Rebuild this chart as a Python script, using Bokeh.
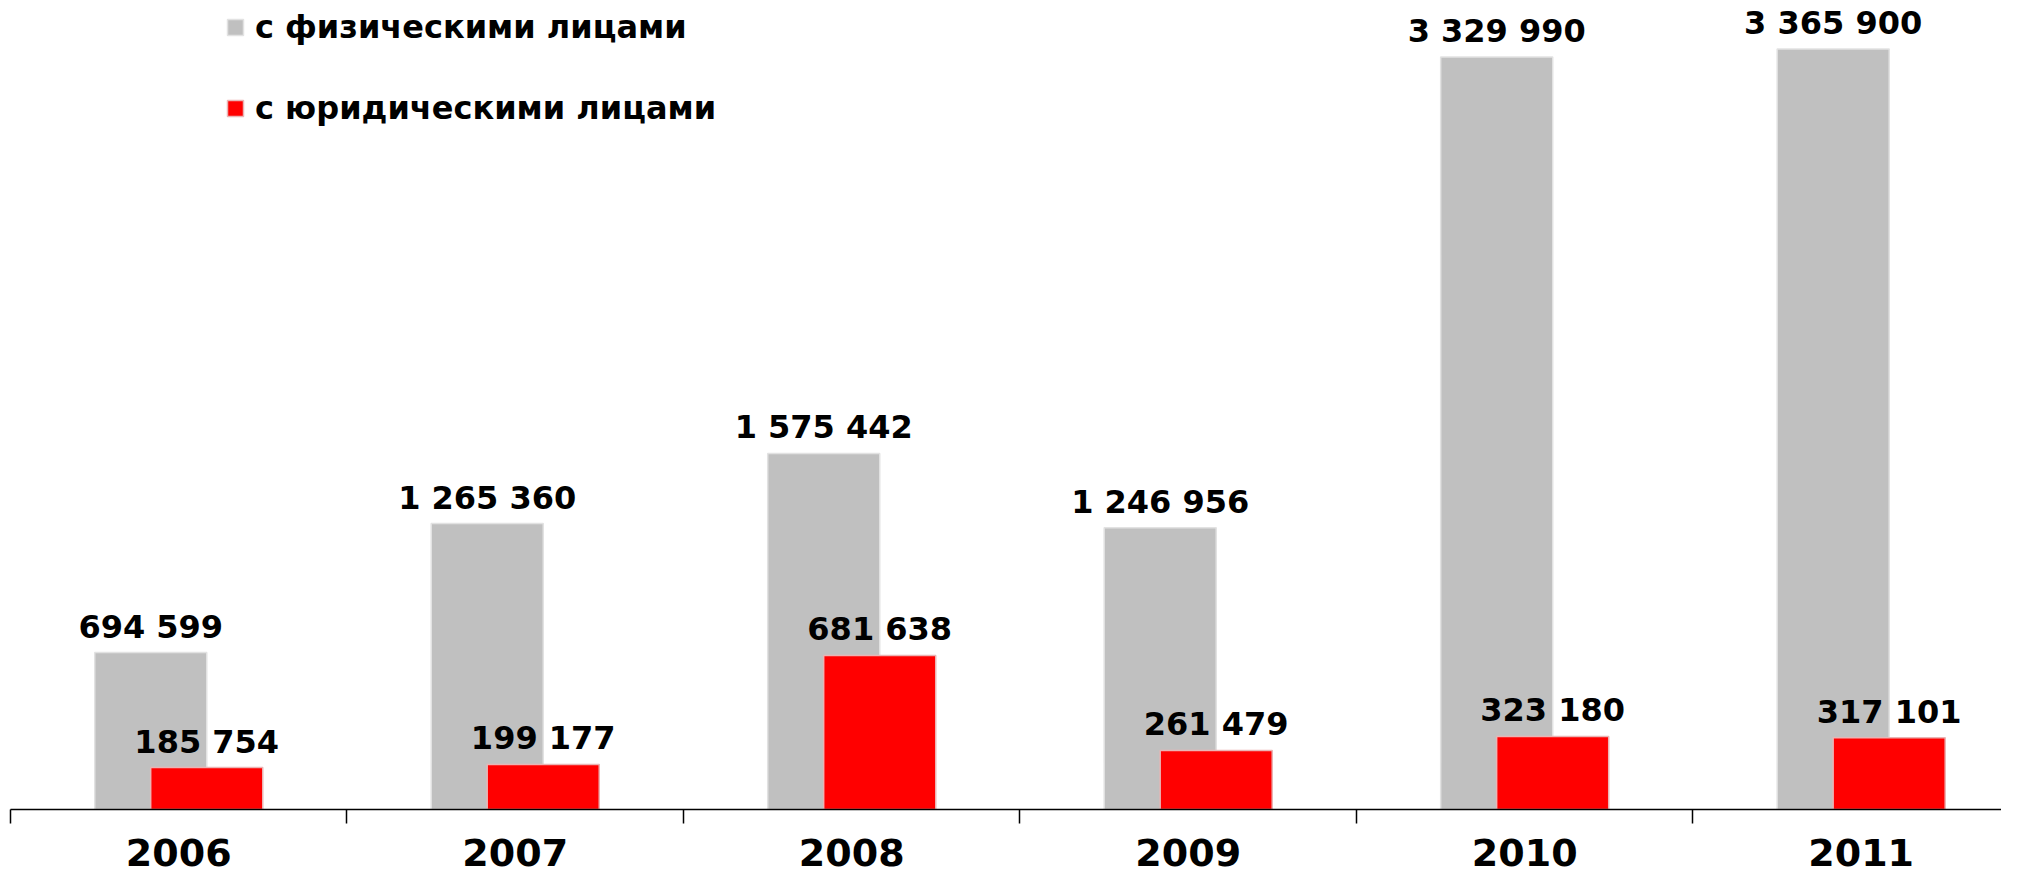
from bokeh.plotting import figure
from bokeh.models import ColumnDataSource, Range1d, FixedTicker, Legend, LegendItem
from bokeh.core.properties import value
from bokeh.embed import file_html
from bokeh.resources import INLINE

years = ["2006", "2007", "2008", "2009", "2010", "2011"]
individuals = [694599, 1265360, 1575442, 1246956, 3329990, 3365900]
legal_entities = [185754, 199177, 681638, 261479, 323180, 317101]
series_names = ["с физическими лицами", "с юридическими лицами"]


def fmt(v):
    return f"{v:,}".replace(",", " ")


centers = [i + 0.5 for i in range(len(years))]
OFF = 0.0832
BW = 0.333

src = ColumnDataSource(dict(
    xg=[c - OFF for c in centers],
    xr=[c + OFF for c in centers],
    ind=individuals,
    leg=legal_entities,
    lab_g=[fmt(v) for v in individuals],
    lab_r=[fmt(v) for v in legal_entities],
))

FONT = "DejaVu Sans"

p = figure(width=2001, height=868,
           x_range=Range1d(0, 5.917), y_range=Range1d(0, 3580000),
           output_backend="svg", toolbar_location=None,
           y_axis_location=None,
           min_border_left=10, min_border_right=0, min_border_top=0, min_border_bottom=0)
p.outline_line_color = None
p.grid.visible = False
p.background_fill_color = "white"

rg = p.vbar(x="xg", top="ind", width=BW, bottom=0, source=src,
            fill_color="#c0c0c0", line_color="#e2e2e2", line_width=1.5)
rr = p.vbar(x="xr", top="leg", width=BW, bottom=0, source=src,
            fill_color="#ff0000", line_color="#eab4b4", line_width=1.5)

p.text(x="xg", y="ind", text="lab_g", source=src, text_align="center",
       text_baseline="alphabetic", y_offset=-26, text_font=value(FONT),
       text_font_style="bold", text_font_size="32px", text_color="black")
p.text(x="xr", y="leg", text="lab_r", source=src, text_align="center",
       text_baseline="alphabetic", y_offset=-26, text_font=value(FONT),
       text_font_style="bold", text_font_size="32px", text_color="black")

ax = p.xaxis[0]
ax.ticker = FixedTicker(ticks=centers, minor_ticks=list(range(0, 7)))
ax.major_label_overrides = {c: y for c, y in zip(centers, years)}
ax.major_tick_out = 0
ax.major_tick_in = 0
ax.minor_tick_out = 14
ax.minor_tick_in = 0
ax.minor_tick_line_color = "black"
ax.minor_tick_line_width = 1.5
ax.axis_line_color = "black"
ax.axis_line_width = 1.5
ax.major_label_text_font = FONT
ax.major_label_text_font_style = "bold"
ax.major_label_text_font_size = "38px"
ax.major_label_text_color = "black"
ax.major_label_standoff = 15

legend = Legend(items=[LegendItem(label=series_names[0], renderers=[rg]),
                       LegendItem(label=series_names[1], renderers=[rr])],
                location=(215, 682), orientation="vertical",
                glyph_width=20, glyph_height=20, label_standoff=10,
                label_text_font=FONT, label_text_font_style="bold",
                label_text_font_size="32px", label_text_color="black",
                spacing=43, padding=0, margin=0,
                border_line_alpha=0, background_fill_alpha=0)
p.add_layout(legend, "center")

open("out.html", "w").write(file_html(p, INLINE))
